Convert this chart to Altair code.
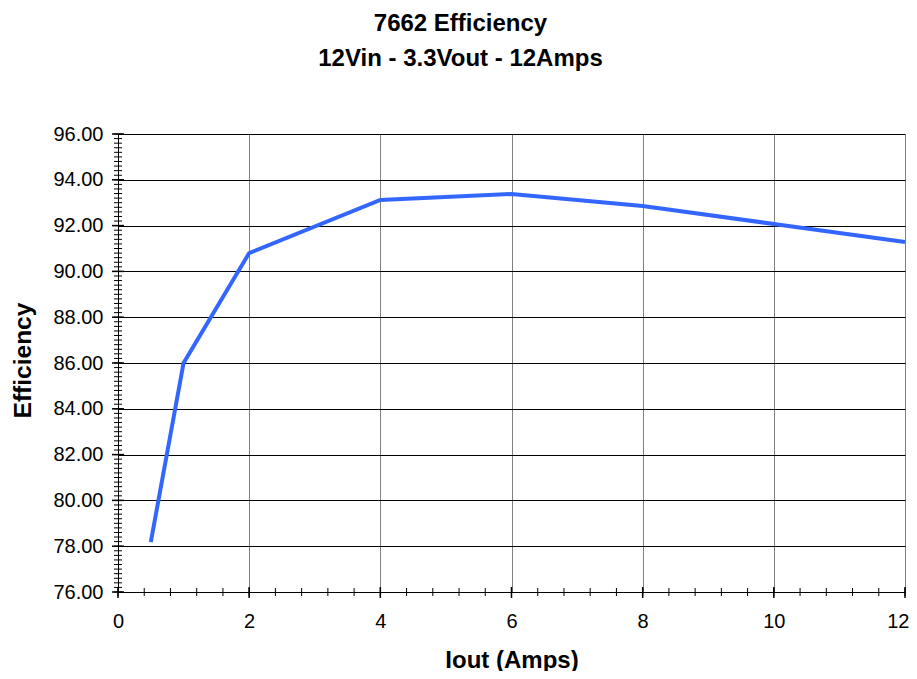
import altair as alt
import pandas as pd

# Data
iout = [0.5, 1, 2, 4, 6, 8, 10, 12]
efficiency = [78.18, 86.0, 90.8, 93.12, 93.38, 92.86, 92.07, 91.28]

x_major = [0, 2, 4, 6, 8, 10, 12]
y_major = [76, 78, 80, 82, 84, 86, 88, 90, 92, 94, 96]
x_minor = [round(0.4 * i, 2) for i in range(31)]
y_minor = [round(76 + 0.2 * i, 2) for i in range(101)]

FONT = "Liberation Sans"
PLOT_W, PLOT_H = 787, 458

df = pd.DataFrame({"iout": iout, "eff": efficiency})
xmaj = pd.DataFrame({"iout": x_major})
ymaj = pd.DataFrame({"eff": y_major})
xmin_ = pd.DataFrame({"iout": x_minor})
ymin_ = pd.DataFrame({"eff": y_minor})

xscale = alt.Scale(domain=[0, 12], nice=False, zero=False)
yscale = alt.Scale(domain=[76, 96], nice=False, zero=False)

xaxis = alt.Axis(values=x_major, format="d", grid=True, gridColor="#808080",
                 gridWidth=1, ticks=False, labelPadding=19, labelFlush=False,
                 labelAlign=alt.ExprRef("datum.value == 12 ? 'right' : 'center'"),
                 labelOffset=alt.ExprRef("datum.value == 12 ? 4 : 0"),
                 domainColor="black", domainWidth=1,
                 labelFont=FONT, labelFontSize=20, labelColor="black",
                 title="Iout (Amps)", titleFont=FONT, titleFontSize=24,
                 titleFontWeight="bold", titleColor="black",
                 titleY=68, titleBaseline="middle")
yaxis = alt.Axis(values=y_major, format=".2f", grid=True, gridColor="black",
                 gridWidth=1, ticks=False, labelPadding=15,
                 domainColor="black", domainWidth=1,
                 labelFont=FONT, labelFontSize=20, labelColor="black",
                 title="Efficiency", titleFont=FONT, titleFontSize=24.5,
                 titleFontWeight="bold", titleColor="black",
                 titleX=-95, titleY=PLOT_H / 2 - 3, titleBaseline="middle")

line = alt.Chart(df).mark_line(color="#3366FF", strokeWidth=4, clip=False).encode(
    x=alt.X("iout:Q", scale=xscale, axis=xaxis, title="Iout (Amps)"),
    y=alt.Y("eff:Q", scale=yscale, axis=yaxis, title="Efficiency"),
)

y_minor_ticks = alt.Chart(ymin_).mark_rule(color="black", strokeWidth=1, clip=False).encode(
    y=alt.Y("eff:Q", scale=yscale, title="Efficiency"),
    x=alt.value(-4), x2=alt.value(4),
)
y_major_ticks = alt.Chart(ymaj).mark_rule(color="black", strokeWidth=1.5, clip=False).encode(
    y=alt.Y("eff:Q", scale=yscale, title="Efficiency"),
    x=alt.value(-6), x2=alt.value(6),
)
x_minor_ticks = alt.Chart(xmin_).mark_rule(color="black", strokeWidth=1, clip=False).encode(
    x=alt.X("iout:Q", scale=xscale, title="Iout (Amps)"),
    y=alt.value(PLOT_H - 4), y2=alt.value(PLOT_H + 4),
)
x_major_ticks = alt.Chart(xmaj).mark_rule(color="black", strokeWidth=1.5, clip=False).encode(
    x=alt.X("iout:Q", scale=xscale, title="Iout (Amps)"),
    y=alt.value(PLOT_H - 5), y2=alt.value(PLOT_H + 6),
)

chart = alt.layer(line, y_minor_ticks, y_major_ticks, x_minor_ticks, x_major_ticks).properties(
    width=PLOT_W,
    height=PLOT_H,
    autosize=alt.AutoSizeParams(type="none"),
    padding={"left": 110, "top": 126, "right": 4, "bottom": 79},
    title=alt.TitleParams(
        ["7662 Efficiency", "12Vin - 3.3Vout - 12Amps"],
        font=FONT, fontSize=24, fontWeight="bold", color="black",
        anchor="middle", dx=-51, offset=53, lineHeight=35,
    ),
).configure_view(stroke="#808080", strokeWidth=1).configure(background="white")

chart.save("out.html", embed_options={"renderer": "svg", "actions": False})
